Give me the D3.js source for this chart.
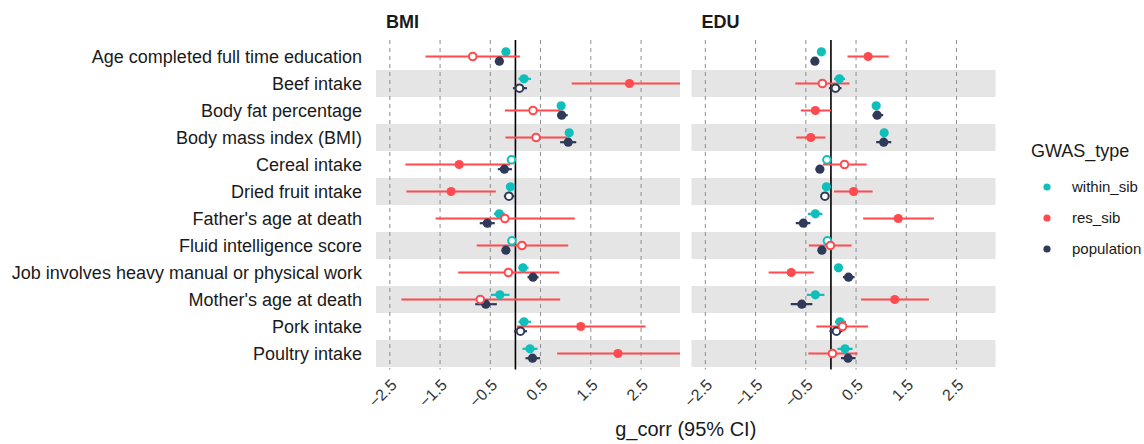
<!DOCTYPE html>
<meta charset="utf-8">
<style>
body { margin: 0; background: #fff; }
svg text { font-family: "Liberation Sans", Arial, Helvetica, sans-serif; fill: #1a1a1a; }
.grid { stroke: #8c8c8c; stroke-width: 1px; stroke-dasharray: 4,4; }
.band { fill: #e5e5e5; }
.zero { stroke: #000; stroke-width: 1.6px; }
</style>
<body>
<div id="chart"></div>
</body>
<script src="https://d3js.org/d3.v7.min.js"></script>
<script>

var traits = ["Age completed full time education", "Beef intake", "Body fat percentage",
  "Body mass index (BMI)", "Cereal intake", "Dried fruit intake", "Father's age at death",
  "Fluid intelligence score", "Job involves heavy manual or physical work",
  "Mother's age at death", "Pork intake", "Poultry intake"];
var panels = ["BMI", "EDU"];
var types = ["within_sib", "res_sib", "population"];
var tickValues = [-2.5, -1.5, -0.5, 0.5, 1.5, 2.5];

// BMI panel
var bmi_within     = [-0.19, 0.17, 0.91, 1.07, -0.08, -0.10, -0.32, -0.07, 0.15, -0.31, 0.17, 0.29];
var bmi_within_lo  = [-0.24, 0.06, 0.85, 0.99, -0.13, -0.15, -0.43, -0.12, 0.06, -0.49, 0.06, 0.14];
var bmi_within_hi  = [-0.14, 0.31, 0.97, 1.14, -0.03, -0.05, -0.21, -0.02, 0.26, -0.12, 0.31, 0.44];
var bmi_within_sig = [1, 1, 1, 1, 0, 1, 1, 0, 1, 1, 1, 1];

var bmi_res     = [-0.85, 2.27, 0.35, 0.41, -1.12, -1.28, -0.21, 0.13, -0.14, -0.70, 1.30, 2.04];
var bmi_res_lo  = [-1.79, 1.12, -0.21, -0.20, -2.19, -2.17, -1.59, -0.77, -1.14, -2.27, 0.03, 0.83];
var bmi_res_hi  = [0.09, 3.45, 0.89, 1.03, -0.10, -0.39, 1.18, 1.05, 0.87, 0.89, 2.59, 3.40];
var bmi_res_sig = [0, 1, 0, 0, 1, 1, 0, 0, 0, 0, 1, 1];

var bmi_pop     = [-0.32, 0.08, 0.92, 1.05, -0.22, -0.13, -0.56, -0.19, 0.35, -0.59, 0.10, 0.34];
var bmi_pop_lo  = [-0.37, -0.05, 0.83, 0.89, -0.35, -0.23, -0.71, -0.24, 0.24, -0.80, -0.03, 0.20];
var bmi_pop_hi  = [-0.27, 0.23, 1.04, 1.21, -0.07, -0.02, -0.41, -0.14, 0.46, -0.37, 0.23, 0.49];
var bmi_pop_sig = [1, 0, 1, 1, 1, 0, 1, 1, 1, 1, 0, 1];

// EDU panel
var edu_within     = [-0.19, 0.17, 0.90, 1.06, -0.08, -0.09, -0.31, -0.07, 0.15, -0.31, 0.18, 0.28];
var edu_within_lo  = [-0.24, 0.06, 0.85, 1.00, -0.13, -0.14, -0.46, -0.12, 0.08, -0.48, 0.08, 0.13];
var edu_within_hi  = [-0.14, 0.28, 0.95, 1.11, -0.03, -0.04, -0.17, -0.02, 0.22, -0.13, 0.30, 0.43];
var edu_within_sig = [1, 1, 1, 1, 0, 1, 1, 0, 1, 1, 1, 1];

var edu_res     = [0.74, -0.17, -0.31, -0.40, 0.27, 0.45, 1.34, -0.01, -0.79, 1.27, 0.23, 0.03];
var edu_res_lo  = [0.33, -0.71, -0.60, -0.69, -0.16, 0.06, 0.64, -0.44, -1.24, 0.60, -0.29, -0.45];
var edu_res_hi  = [1.15, 0.37, 0.00, -0.11, 0.71, 0.83, 2.05, 0.41, -0.34, 1.95, 0.74, 0.53];
var edu_res_sig = [1, 0, 1, 1, 0, 1, 1, 0, 1, 1, 0, 0];

var edu_pop     = [-0.32, 0.09, 0.92, 1.05, -0.22, -0.12, -0.55, -0.18, 0.35, -0.58, 0.11, 0.34];
var edu_pop_lo  = [-0.37, -0.04, 0.83, 0.90, -0.30, -0.20, -0.70, -0.25, 0.24, -0.80, -0.03, 0.20];
var edu_pop_hi  = [-0.27, 0.21, 1.04, 1.20, -0.14, -0.05, -0.41, -0.11, 0.47, -0.37, 0.23, 0.49];
var edu_pop_sig = [1, 0, 1, 1, 1, 0, 1, 1, 1, 1, 0, 1];

var series = {
  BMI: {
    within_sib: [bmi_within, bmi_within_lo, bmi_within_hi, bmi_within_sig],
    res_sib:    [bmi_res, bmi_res_lo, bmi_res_hi, bmi_res_sig],
    population: [bmi_pop, bmi_pop_lo, bmi_pop_hi, bmi_pop_sig]
  },
  EDU: {
    within_sib: [edu_within, edu_within_lo, edu_within_hi, edu_within_sig],
    res_sib:    [edu_res, edu_res_lo, edu_res_hi, edu_res_sig],
    population: [edu_pop, edu_pop_lo, edu_pop_hi, edu_pop_sig]
  }
};

var colors = d3.scaleOrdinal().domain(types).range(["#0fbfbb", "#ff4b4f", "#2e3a58"]);
var dodge = d3.scaleOrdinal().domain(types).range([-4.7, 0, 4.7]);

var svgW = 1144, svgH = 444;
var panelW = 304, panelTop = 40, panelBottom = 369.5;
var panelLeft = {BMI: 376, EDU: 691.5};

var svg = d3.select("#chart").append("svg")
    .attr("width", svgW)
    .attr("height", svgH);

// shared x (coord_cartesian(-2.5, 3) with 5% expansion)
var x = d3.scaleLinear().domain([-2.775, 3.275]).range([0, panelW]);
var y = d3.scaleBand().domain(traits).range([43, 367]).padding(0);

// y labels
svg.append("g").selectAll("text")
    .data(traits)
  .enter().append("text")
    .attr("x", 362)
    .attr("y", function(d) { return y(d) + y.bandwidth() / 2; })
    .attr("dy", "0.35em")
    .attr("text-anchor", "end")
    .style("font-size", "18px")
    .text(function(d) { return d; });

svg.append("clipPath")
    .attr("id", "clip")
  .append("rect")
    .attr("x", 0)
    .attr("y", 0)
    .attr("width", panelW)
    .attr("height", svgH);

panels.forEach(function(p) {
  var g = svg.append("g")
      .attr("transform", "translate(" + panelLeft[p] + ",0)");

  // facet title
  g.append("text")
      .attr("x", 10)
      .attr("y", 28)
      .style("font-size", "18px")
      .style("font-weight", "bold")
      .text(p);

  // alternating bands
  g.selectAll(".band")
      .data(traits.filter(function(d, i) { return i % 2 == 1; }))
    .enter().append("rect")
      .attr("class", "band")
      .attr("x", 0)
      .attr("width", panelW)
      .attr("y", function(d) { return y(d); })
      .attr("height", y.bandwidth());

  g.selectAll(".grid")
      .data(tickValues)
    .enter().append("line")
      .attr("class", "grid")
      .attr("x1", function(d) { return x(d); })
      .attr("x2", function(d) { return x(d); })
      .attr("y1", panelTop)
      .attr("y2", panelBottom);

  g.append("line")
      .attr("class", "zero")
      .attr("x1", x(0))
      .attr("x2", x(0))
      .attr("y1", panelTop)
      .attr("y2", panelBottom);

  // tick labels
  g.selectAll(".tick-label")
      .data(tickValues)
    .enter().append("text")
      .attr("class", "tick-label")
      .attr("text-anchor", "end")
      .attr("transform", function(d) { return "translate(" + (x(d) + 8) + ",386) rotate(-45)"; })
      .style("font-size", "16px")
      .style("fill", "#333")
      .text(function(d) { return d3.format(".1f")(d).replace("-", "\u2212"); });

  var rows = [];
  types.forEach(function(t) {
    var s = series[p][t];
    traits.forEach(function(tr, i) {
      rows.push({trait: tr, type: t, est: s[0][i], lo: s[1][i], hi: s[2][i], sig: s[3][i]});
    });
  });

  var plot = g.append("g").attr("clip-path", "url(#clip)");

  plot.selectAll(".ci")
      .data(rows)
    .enter().append("line")
      .attr("class", "ci")
      .attr("x1", function(d) { return x(d.lo); })
      .attr("x2", function(d) { return x(d.hi); })
      .attr("y1", function(d) { return y(d.trait) + y.bandwidth() / 2 + dodge(d.type); })
      .attr("y2", function(d) { return y(d.trait) + y.bandwidth() / 2 + dodge(d.type); })
      .style("stroke", function(d) { return colors(d.type); })
      .style("stroke-width", "2.2px");

  var order = ["within_sib", "population", "res_sib"];
  plot.selectAll(".pt")
      .data(rows.slice().sort(function(a, b) { return order.indexOf(a.type) - order.indexOf(b.type); }))
    .enter().append("circle")
      .attr("class", "pt")
      .attr("cx", function(d) { return x(d.est); })
      .attr("cy", function(d) { return y(d.trait) + y.bandwidth() / 2 + dodge(d.type); })
      .attr("r", function(d) { return d.sig ? 4.6 : 3.8; })
      .style("fill", function(d) { return d.sig ? colors(d.type) : "#fff"; })
      .style("stroke", function(d) { return colors(d.type); })
      .style("stroke-width", function(d) { return d.sig ? 0 : 2; });
});

// x axis title
svg.append("text")
    .attr("x", (panelLeft.BMI + panelLeft.EDU + panelW) / 2)
    .attr("y", 436)
    .attr("text-anchor", "middle")
    .style("font-size", "20px")
    .text("g_corr (95% CI)");

// legend
var legend = svg.append("g")
    .attr("transform", "translate(1031,0)");

legend.append("text")
    .attr("x", 0)
    .attr("y", 157)
    .style("font-size", "18px")
    .text("GWAS_type");

var item = legend.selectAll(".item")
    .data(types)
  .enter().append("g")
    .attr("class", "item")
    .attr("transform", function(d, i) { return "translate(0," + (187 + i * 31) + ")"; });

item.append("circle")
    .attr("cx", 16)
    .attr("r", 3.6)
    .style("fill", function(d) { return colors(d); });

item.append("text")
    .attr("x", 41)
    .attr("dy", "0.35em")
    .style("font-size", "15px")
    .text(function(d) { return d; });

</script>
